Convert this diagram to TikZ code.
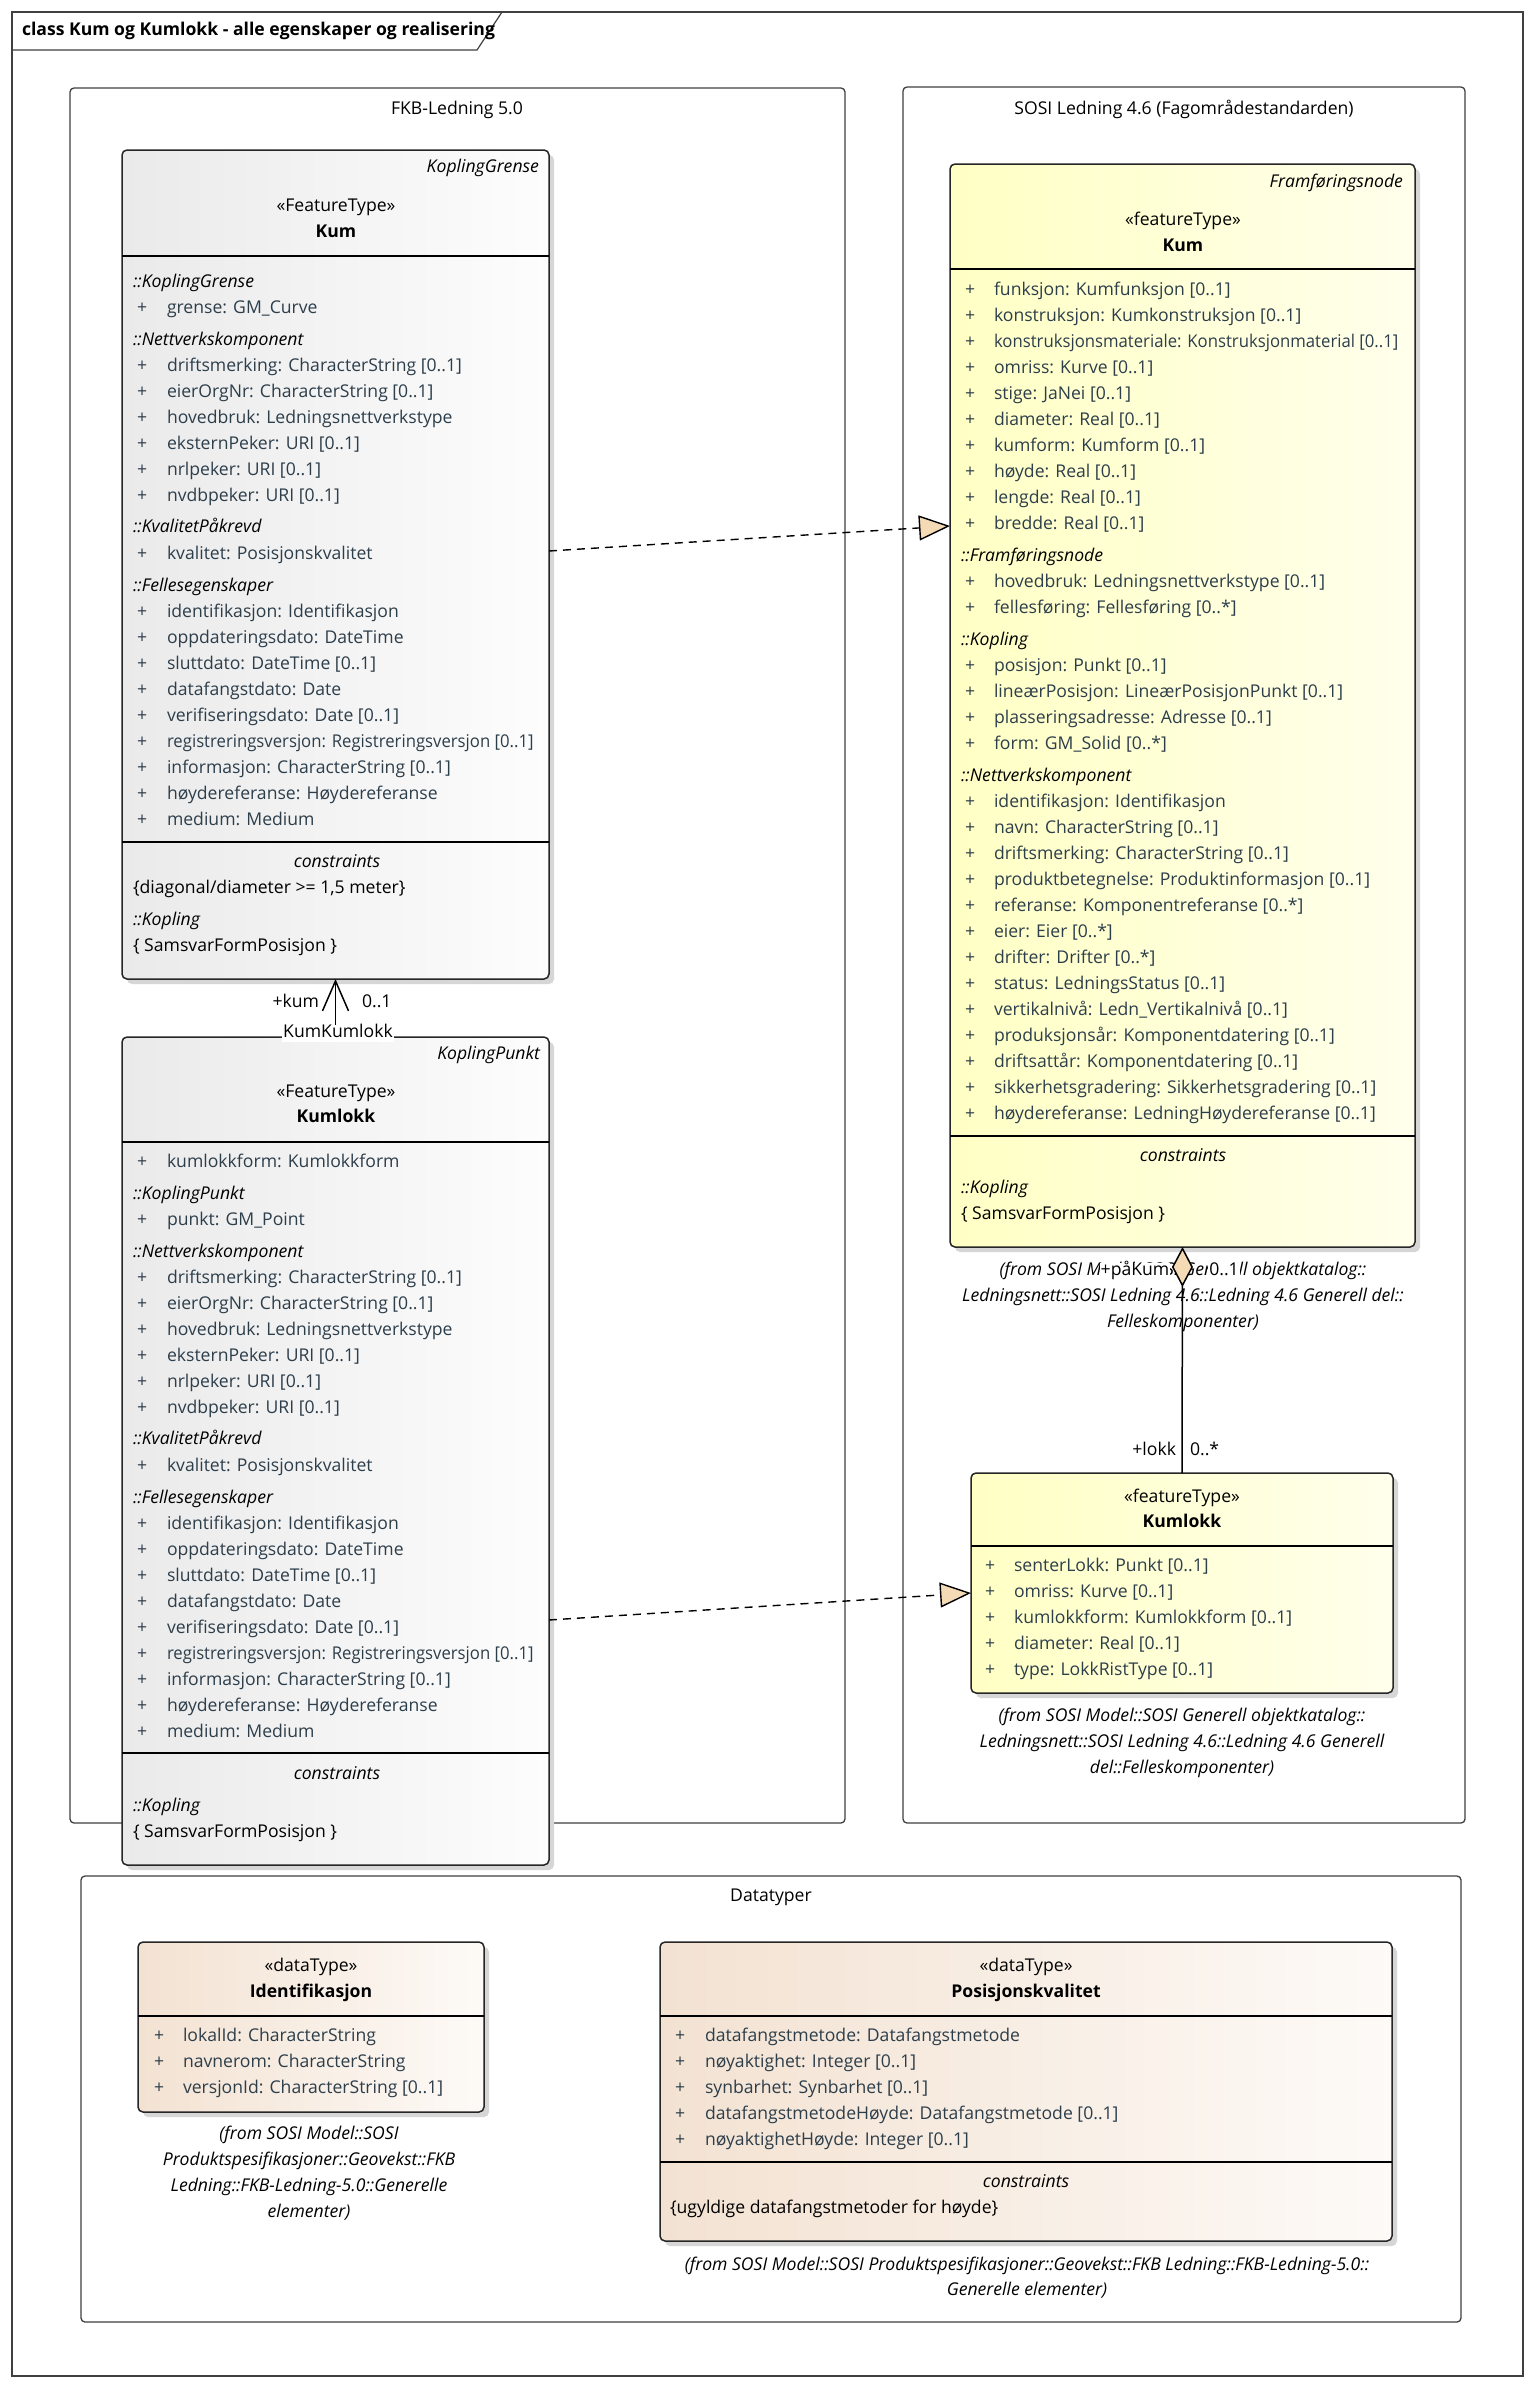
\documentclass[tikz,border=0pt]{standalone}
\usepackage{fontspec}
\setmainfont{Open Sans}
\usetikzlibrary{arrows.meta,shadows}
\definecolor{attrc}{RGB}{45,62,75}
\definecolor{peach}{RGB}{245,218,182}
\definecolor{yelA}{RGB}{255,255,196}
\definecolor{yelB}{RGB}{255,255,236}
\definecolor{gryA}{RGB}{234,234,234}
\definecolor{gryB}{RGB}{253,253,253}
\definecolor{pchA}{RGB}{243,226,210}
\definecolor{pchB}{RGB}{253,250,247}
\definecolor{frmc}{RGB}{64,64,64}
\newcommand\dfont{\fontsize{17.6}{26}\selectfont}
\newcommand\squeeze[1]{\scalebox{0.95}[1]{#1}}
\tikzset{
  every node/.style={inner sep=0pt, outer sep=0pt, font=\dfont},
  frm/.style={draw=frmc, line width=1.2pt},
  pkg/.style={draw=frmc, line width=1.3pt, rounded corners=4pt, fill=white},
  cls/.style={draw=black!85, line width=1.5pt, rounded corners=5pt,
    drop shadow={shadow xshift=5pt, shadow yshift=-5pt, fill=black!16, opacity=1}},
  grayfill/.style={left color=gryA, right color=gryB},
  yelfill/.style={left color=yelA, right color=yelB},
  pchfill/.style={left color=pchA, right color=pchB},
  divl/.style={draw=black, line width=1.5pt},
  tx/.style={anchor=west, text=attrc, text height=13pt, text depth=4pt},
  pl/.style={anchor=west, text=attrc, text height=13pt, text depth=4pt},
  hd/.style={anchor=west, font=\dfont\itshape, text height=13pt, text depth=4pt},
  blk/.style={anchor=west, text height=13pt, text depth=4pt},
  ctr/.style={anchor=center, text height=13pt, text depth=4pt},
  ctri/.style={ctr, font=\dfont\itshape},
  ctrb/.style={ctr, font=\dfont\bfseries},
  topi/.style={anchor=east, font=\dfont\itshape, text height=13pt, text depth=4pt},
  pkglbl/.style={anchor=center, text height=13pt, text depth=4pt},
  note/.style={anchor=center, font=\dfont\itshape, text height=13pt, text depth=4pt},
  rlbl/.style={text height=13pt, text depth=4pt},
  rlblw/.style={rlbl, fill=white, inner xsep=1pt},
  assoc/.style={draw=black, line width=1.5pt},
  real/.style={draw=black, line width=1.4pt, dash pattern=on 8pt off 6pt},
}
\newcommand\mkbox[6]{\node[#6, minimum width={#4-#2}, minimum height={#5-#3}] (#1) at ({(#2+#4)/2},{(#3+#5)/2}) {};}
\newcommand\divider[2]{\draw[divl] (#1.west |- 0,#2) -- (#1.east |- 0,#2);}
\newcommand\attrlist[5]{%
  \foreach \t [count=\i] in {#5} {%
    \pgfmathsetmacro\yy{#4+(\i-1)*26}
    \node[pl] (#1p\i) at (#2,\yy) {+};
    \node[tx] (#1t\i) at (#3,\yy) {\t};
  }}
\begin{document}
\begin{tikzpicture}[x=1pt,y=-1pt]
\useasboundingbox (0,0) rectangle (1532,2382);
\fill[white] (0,0) rectangle (1532,2382);
% outer frame
\draw[frm] (12,12) rectangle (1523,2376);
\draw[frm] (12,50) -- (477,50) -- (502,12);
\node[anchor=west, font=\dfont\bfseries, text height=13pt, text depth=4pt] (title) at (22,31) {class Kum og Kumlokk - alle egenskaper og realisering};
% packages
\mkbox{fkb}{70}{88}{845}{1823}{pkg}
\mkbox{sosi}{903}{87}{1465}{1823}{pkg}
\mkbox{dtp}{81}{1876}{1461}{2322}{pkg}
\node[pkglbl] (fkblbl) at (457,110) {FKB-Ledning 5.0};
\node[pkglbl] (sosilbl) at (1184,110) {SOSI Ledning 4.6 (Fagområdestandarden)};
\node[pkglbl] (dtplbl) at (771,1897) {Datatyper};

% ---------------- left Kum
\mkbox{kumL}{122}{150}{549}{979}{cls,grayfill}
\node[topi] (kumLtop) at (539,168) {KoplingGrense};
\node[ctr] (kumLst) at (336,207) {«FeatureType»};
\node[ctrb] (kumLnm) at (336,233) {Kum};
\divider{kumL}{256}
\node[hd] (kumLh1) at (133,283) {::KoplingGrense};
\attrlist{kumLa}{137}{167}{309}{grense: GM\_Curve}
\node[hd] (kumLh2) at (133,341) {::Nettverkskomponent};
\attrlist{kumLb}{137}{167}{367}{driftsmerking: CharacterString [0..1],eierOrgNr: CharacterString [0..1],hovedbruk: Ledningsnettverkstype,eksternPeker: URI [0..1],nrlpeker: URI [0..1],nvdbpeker: URI [0..1]}
\node[hd] (kumLh3) at (133,528) {::KvalitetPåkrevd};
\attrlist{kumLc}{137}{167}{555}{kvalitet: Posisjonskvalitet}
\node[hd] (kumLh4) at (133,587) {::Fellesegenskaper};
\attrlist{kumLd}{137}{167}{613}{identifikasjon: Identifikasjon,oppdateringsdato: DateTime,sluttdato: DateTime [0..1],datafangstdato: Date,verifiseringsdato: Date [0..1],{\squeeze{registreringsversjon: Registreringsversjon [0..1]}},informasjon: CharacterString [0..1],høydereferanse: Høydereferanse,medium: Medium}
\divider{kumL}{842}
\node[ctri] (kumLc) at (337,863) {constraints};
\node[blk] (kumLc1) at (133,889) {\{diagonal/diameter >= 1,5 meter\}};
\node[hd] (kumLc2) at (133,921) {::Kopling};
\node[blk] (kumLc3) at (133,947) {\{ SamsvarFormPosisjon \}};

% ---------------- left Kumlokk
\mkbox{klL}{122}{1037}{549}{1865}{cls,grayfill}
\node[topi] (klLtop) at (540,1055) {KoplingPunkt};
\node[ctr] (klLst) at (336,1093) {«FeatureType»};
\node[ctrb] (klLnm) at (336,1118) {Kumlokk};
\divider{klL}{1142}
\attrlist{klLa}{137}{167}{1163}{kumlokkform: Kumlokkform}
\node[hd] (klLh1) at (133,1195) {::KoplingPunkt};
\attrlist{klLb}{137}{167}{1221}{punkt: GM\_Point}
\node[hd] (klLh2) at (133,1253) {::Nettverkskomponent};
\attrlist{klLc}{137}{167}{1279}{driftsmerking: CharacterString [0..1],eierOrgNr: CharacterString [0..1],hovedbruk: Ledningsnettverkstype,eksternPeker: URI [0..1],nrlpeker: URI [0..1],nvdbpeker: URI [0..1]}
\node[hd] (klLh3) at (133,1440) {::KvalitetPåkrevd};
\attrlist{klLd}{137}{167}{1467}{kvalitet: Posisjonskvalitet}
\node[hd] (klLh4) at (133,1499) {::Fellesegenskaper};
\attrlist{klLe}{137}{167}{1525}{identifikasjon: Identifikasjon,oppdateringsdato: DateTime,sluttdato: DateTime [0..1],datafangstdato: Date,verifiseringsdato: Date [0..1],{\squeeze{registreringsversjon: Registreringsversjon [0..1]}},informasjon: CharacterString [0..1],høydereferanse: Høydereferanse,medium: Medium}
\divider{klL}{1753}
\node[ctri] (klLc) at (337,1775) {constraints};
\node[hd] (klLc1) at (133,1807) {::Kopling};
\node[blk] (klLc2) at (133,1833) {\{ SamsvarFormPosisjon \}};

% ---------------- right Kum
\mkbox{kumR}{950}{164}{1415}{1247}{cls,yelfill}
\node[topi] (kumRtop) at (1403,183) {Framføringsnode};
\node[ctr] (kumRst) at (1183,221) {«featureType»};
\node[ctrb] (kumRnm) at (1183,247) {Kum};
\divider{kumR}{269}
\attrlist{kumRa}{965}{994}{291}{funksjon: Kumfunksjon [0..1],konstruksjon: Kumkonstruksjon [0..1],{\squeeze{konstruksjonsmateriale: Konstruksjonmaterial [0..1]}},omriss: Kurve [0..1],stige: JaNei [0..1],diameter: Real [0..1],kumform: Kumform [0..1],høyde: Real [0..1],lengde: Real [0..1],bredde: Real [0..1]}
\node[hd] (kumRh1) at (961,557) {::Framføringsnode};
\attrlist{kumRb}{965}{994}{583}{hovedbruk: Ledningsnettverkstype [0..1],fellesføring: Fellesføring [0..*]}
\node[hd] (kumRh2) at (961,641) {::Kopling};
\attrlist{kumRc}{965}{994}{667}{posisjon: Punkt [0..1],lineærPosisjon: LineærPosisjonPunkt [0..1],plasseringsadresse: Adresse [0..1],form: GM\_Solid [0..*]}
\node[hd] (kumRh3) at (961,777) {::Nettverkskomponent};
\attrlist{kumRd}{965}{994}{803}{identifikasjon: Identifikasjon,navn: CharacterString [0..1],driftsmerking: CharacterString [0..1],produktbetegnelse: Produktinformasjon [0..1],referanse: Komponentreferanse [0..*],eier: Eier [0..*],drifter: Drifter [0..*],status: LedningsStatus [0..1],vertikalnivå: Ledn\_Vertikalnivå [0..1],produksjonsår: Komponentdatering [0..1],driftsattår: Komponentdatering [0..1],sikkerhetsgradering: Sikkerhetsgradering [0..1],høydereferanse: LedningHøydereferanse [0..1]}
\divider{kumR}{1136}
\node[ctri] (kumRc) at (1183,1157) {constraints};
\node[hd] (kumRc1) at (961,1189) {::Kopling};
\node[blk] (kumRc2) at (961,1215) {\{ SamsvarFormPosisjon \}};
\node[note] (kumRn1) at (1183,1271) {(from SOSI Model::SOSI Generell objektkatalog::};
\node[note] (kumRn2) at (1183,1297) {Ledningsnett::SOSI Ledning 4.6::Ledning 4.6 Generell del::};
\node[note] (kumRn3) at (1183,1323) {Felleskomponenter)};

% ---------------- right Kumlokk
\mkbox{klR}{971}{1473}{1393}{1693}{cls,yelfill}
\node[ctr] (klRst) at (1182,1498) {«featureType»};
\node[ctrb] (klRnm) at (1182,1523) {Kumlokk};
\divider{klR}{1546}
\attrlist{klRa}{985}{1014}{1567}{senterLokk: Punkt [0..1],omriss: Kurve [0..1],kumlokkform: Kumlokkform [0..1],diameter: Real [0..1],type: LokkRistType [0..1]}
\node[note] (klRn1) at (1182,1717) {(from SOSI Model::SOSI Generell objektkatalog::};
\node[note] (klRn2) at (1182,1743) {Ledningsnett::SOSI Ledning 4.6::Ledning 4.6 Generell};
\node[note] (klRn3) at (1182,1769) {del::Felleskomponenter)};

% ---------------- Identifikasjon
\mkbox{idf}{138}{1942}{484}{2112}{cls,pchfill}
\node[ctr] (idfst) at (311,1967) {«dataType»};
\node[ctrb] (idfnm) at (311,1993) {Identifikasjon};
\divider{idf}{2016}
\attrlist{idfa}{154}{183}{2037}{lokalId: CharacterString,navnerom: CharacterString,versjonId: CharacterString [0..1]}
\node[note] (idfn1) at (309,2135) {(from SOSI Model::SOSI};
\node[note] (idfn2) at (309,2161) {Produktspesifikasjoner::Geovekst::FKB};
\node[note] (idfn3) at (309,2187) {Ledning::FKB-Ledning-5.0::Generelle};
\node[note] (idfn4) at (309,2213) {elementer)};

% ---------------- Posisjonskvalitet
\mkbox{pk}{660}{1942}{1392}{2241}{cls,pchfill}
\node[ctr] (pkst) at (1026,1967) {«dataType»};
\node[ctrb] (pknm) at (1026,1993) {Posisjonskvalitet};
\divider{pk}{2016}
\attrlist{pka}{675}{705}{2037}{datafangstmetode: Datafangstmetode,nøyaktighet: Integer [0..1],synbarhet: Synbarhet [0..1],datafangstmetodeHøyde: Datafangstmetode [0..1],nøyaktighetHøyde: Integer [0..1]}
\divider{pk}{2162}
\node[ctri] (pkc) at (1026,2183) {constraints};
\node[blk] (pkc1) at (670,2209) {\{ugyldige datafangstmetoder for høyde\}};
\node[note] (pkn1) at (1027,2266) {(from SOSI Model::SOSI Produktspesifikasjoner::Geovekst::FKB Ledning::FKB-Ledning-5.0::};
\node[note] (pkn2) at (1027,2291) {Generelle elementer)};

% ---------------- connectors
\draw[assoc, -{Straight Barb[length=30pt,width=26pt]}] (klL.north) -- (kumL.south);
\node[rlblw] (kklbl) at (338,1033) {KumKumlokk};
\node[rlbl, anchor=east] (kumrole) at (319,1003) {+kum};
\node[rlbl, anchor=west] (kummult) at (362,1003) {0..1};

\node[rlblw] (pakum) at (1135,1271) {+påKum};
\node[rlblw] (pakummult) at (1224,1271) {0..1};
\draw[assoc, -{Diamond[length=40pt,width=21pt,fill=peach]}] (klR.north) -- (kumR.south);
\node[rlbl, anchor=east] (lokkrole) at (1176,1451) {+lokk};
\node[rlbl, anchor=west] (lokkmult) at (1190,1451) {0..*};

\draw[real, -{Triangle[length=31pt,width=25pt,fill=peach]}] (kumL.east |- 0,551) -- (kumR.west |- 0,526);
\draw[real, -{Triangle[length=31pt,width=25pt,fill=peach]}] (klL.east |- 0,1620) -- (klR.west |- 0,1593);
\end{tikzpicture}
\end{document}
